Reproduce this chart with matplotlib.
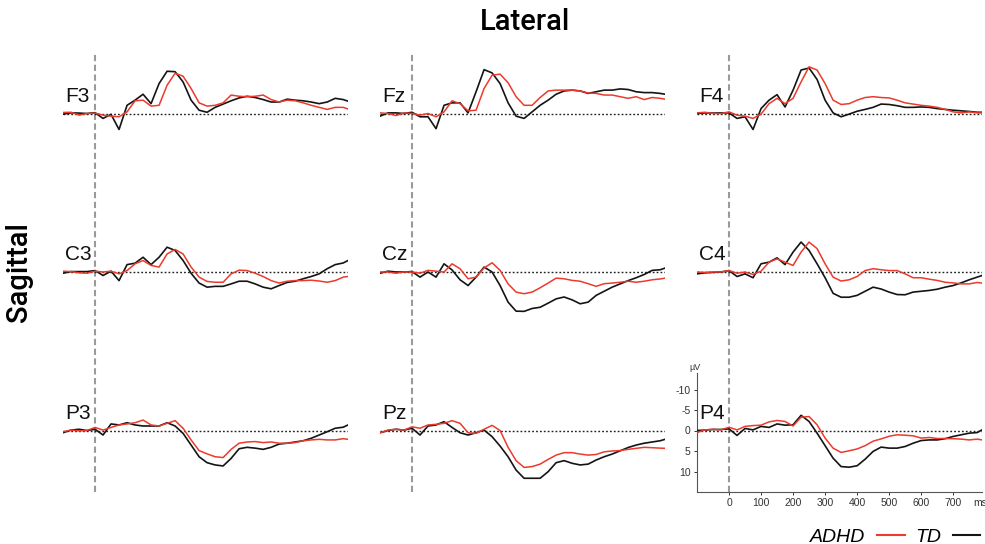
import matplotlib
matplotlib.use('Agg')
import matplotlib.pyplot as plt
from matplotlib.lines import Line2D

plt.rcParams['font.family'] = ['Liberation Sans', 'DejaVu Sans']

# sample times (ms) and ERP amplitudes (uV)
times = [-100, -75, -50, -25, 0, 25, 50, 75, 100, 125, 150, 175, 200, 225, 250, 275, 300,
         325, 350, 375, 400, 425, 450, 475, 500, 525, 550, 575, 600, 625, 650, 675, 700,
         725, 750, 775, 790]

f3_adhd = [-0.25, -0.3, 0.4, 0, -0.1, 0.4, 0.65, 0.8, -0.4, -3.1, -3.25, -1.8, -2.0, -6.9, -9.8, -9.1, -6.1,
           -2.6, -1.8, -2.0, -2.6, -4.5, -4.2, -4.1, -4.2, -4.5, -3.4, -2.8, -3.25, -3.1, -2.6, -2.0, -1.5,
           -1.0, -1.5, -1.5, -1.1]
f3_td = [0.16, -0.16, -0.1, 0, -0.2, 1.2, 0.2, 3.9, -2.0, -3.25, -4.7, -2.4, -7.3, -10.3, -10.2, -7.7, -3.25,
         -0.8, -0.3, -1.5, -2.3, -3.1, -3.8, -4.2, -3.9, -3.4, -2.8, -2.8, -3.5, -3.25, -3.1, -2.8, -2.4,
         -2.8, -3.7, -3.4, -3.0]

fz_adhd = [-0.15, 0, 0.5, -0.15, 0, 0.4, 0, 0.8, -0.4, -3.1, -2.4, -0.65, -0.8, -6.1, -9.35, -9.6, -7.5,
           -4.1, -2.0, -2.0, -3.9, -5.5, -5.7, -5.7, -5.7, -5.5, -5.0, -4.9, -4.5, -4.5, -4.1, -3.7, -4.1,
           -3.4, -3.9, -3.7, -3.5]
fz_td = [0.65, -0.15, -0.15, 0, -0.3, 0.8, 0.8, 3.7, -2.0, -2.6, -2.6, -0.15, -5.3, -10.7, -9.9, -7.3, -2.6,
         0.65, 1.2, -0.4, -2.0, -3.25, -4.7, -5.5, -5.7, -5.5, -4.9, -5.3, -5.7, -5.7, -6.0, -5.85, -5.3,
         -5.1, -5.1, -4.9, -4.7]

f4_adhd = [-0.15, -0.3, 0, 0, -0.4, 0.4, 0.65, 1.2, 0.15, -2.4, -3.7, -2.4, -3.7, -7.7, -11.4, -10.6, -7.3,
           -3.25, -2.2, -2.4, -3.25, -3.9, -4.1, -3.9, -3.8, -3.25, -2.6, -2.3, -2.0, -1.8, -1.5, -1.0, -0.4,
           -0.15, -0.4, -0.15, -0.15]
f4_td = [0, -0.15, -0.1, -0.15, -0.15, 1.2, 0.8, 3.9, -1.2, -3.25, -4.6, -1.6, -5.7, -10.6, -11.1, -8.3, -3.25,
         -0.15, 0.8, 0.15, -0.55, -1.0, -1.5, -2.3, -2.2, -1.9, -1.5, -1.5, -1.6, -1.5, -1.2, -1.0, -0.8,
         -0.65, -0.5, -0.3, -0.3]

c3_adhd = [-0.2, -0.1, 0.2, 0.3, -0.2, 0, -0.2, 0.45, -0.35, -2.0, -2.8, -1.6, -1.2, -4.4, -5.5, -4.4, -1.2,
           1.25, 2.3, 2.5, 2.5, 0.45, -0.45, -0.35, 0.3, 1.1, 2.1, 2.7, 2.25, 2.1, 2.1, 2.0, 2.2,
           2.5, 2.1, 1.25, 1.1]
c3_td = [0.3, -0.1, -0.1, -0.1, -0.35, 0.85, -0.2, 2.1, -1.8, -2.15, -3.6, -1.8, -3.6, -6.05, -5.25, -2.8, 0.3,
         2.7, 3.7, 3.5, 3.5, 2.9, 2.25, 2.25, 2.9, 3.7, 4.1, 3.3, 2.55, 2.25, 1.65, 1.1, 0.45,
         -0.8, -1.8, -2.2, -2.8]

cz_adhd = [0, 0, 0.3, 0, 0, 0.3, -0.4, -0.2, 0, -2.0, -0.8, 1.65, 1.25, -1.0, -2.25, -0.4, 2.9,
           4.9, 5.3, 4.9, 3.85, 2.7, 1.5, 1.65, 2.05, 2.25, 2.85, 3.5, 2.85, 2.7, 2.5, 2.25, 2.5,
           2.25, 1.9, 1.7, 1.5]
cz_td = [0.3, -0.2, 0, 0, -0.1, 1.25, 0, 1.25, -2.0, -0.5, 1.9, 3.3, 1.25, -1.2, 0, 3.3, 7.35,
         9.55, 9.6, 8.9, 8.6, 7.6, 6.55, 6.1, 6.8, 7.75, 7.35, 5.7, 4.7, 3.7, 2.9, 2.1, 1.4,
         0.6, -0.4, -0.55, -0.95]

c4_adhd = [0, 0.1, 0, 0, -0.35, 0.3, 0, 0.6, -0.2, -2.4, -3.2, -2.4, -1.6, -4.85, -7.3, -5.7, -2.0,
           1.25, 2.2, 1.9, 1.1, -0.35, -0.8, -0.55, -0.35, -0.35, 0.45, 1.4, 1.4, 1.75, 2.05, 2.5, 2.65,
           2.9, 2.9, 2.55, 2.7]
c4_td = [0.45, 0.2, 0.1, 0, -0.35, 1.1, 0.45, 1.4, -2.0, -2.4, -3.45, -1.8, -4.85, -7.3, -5.25, -2.0, 1.4,
         5.2, 6.15, 6.15, 5.7, 4.7, 3.7, 4.15, 4.9, 5.5, 5.55, 4.9, 4.7, 4.5, 4.2, 3.7, 3.3,
         2.65, 1.9, 1.25, 0.85]

p3_adhd = [0.3, -0.1, 0.1, 0, -0.75, -0.1, -0.75, -1.35, -1.6, -1.9, -2.55, -1.35, -1.1, -1.75, -2.4, -0.55, 2.3,
           4.9, 5.7, 6.4, 6.6, 4.6, 3.1, 2.8, 2.7, 2.95, 2.8, 3.1, 3.1, 2.95, 2.5, 2.3, 2.15,
           2.3, 2.3, 2.0, 2.15]
p3_td = [0.55, -0.1, -0.3, 0, -0.3, 1.1, -1.6, -1.35, -1.9, -1.35, -1.1, -1.1, -1.1, -1.9, -1.1, 0.7, 3.55,
         6.4, 7.85, 8.4, 8.65, 6.8, 4.45, 4.1, 4.3, 4.6, 4.1, 3.3, 3.1, 2.8, 2.5, 1.9, 1.1,
         0.3, -0.55, -0.8, -1.35]

pz_adhd = [0.55, -0.1, -0.3, -0.1, -0.9, -0.55, -1.35, -1.5, -1.75, -2.4, -1.75, 0.55, 0.7, -0.3, -1.25, 0, 4.1,
           7.35, 9.0, 8.8, 8.2, 7.05, 6.0, 5.4, 5.4, 5.75, 6.0, 5.85, 5.2, 5.0, 4.9, 4.6, 4.35,
           4.1, 4.2, 4.3, 4.35]
pz_td = [0.55, 0, -0.3, -0.1, -0.55, 1.1, -1.1, -1.35, -2.15, -0.75, 0.55, 1.1, 0.55, -0.1, 1.5, 3.8, 6.4,
         9.65, 11.65, 11.65, 11.65, 10.05, 7.85, 7.35, 8.0, 8.4, 8.2, 7.2, 6.4, 5.75, 4.95, 4.15, 3.55,
         3.1, 2.8, 2.5, 2.15]

p4_adhd = [0.5, -0.15, -0.3, -0.15, -0.8, -0.15, -1.0, -1.2, -1.3, -2.1, -2.45, -2.2, -1.1, -3.25, -3.4, -1.4, 1.85,
           4.3, 5.35, 4.95, 4.5, 3.7, 2.6, 2.05, 1.4, 1.05, 1.15, 1.3, 1.85, 1.7, 1.95, 1.95, 2.0,
           2.1, 2.3, 2.1, 2.3]
p4_td = [0, -0.1, -0.25, -0.25, -0.4, 1.2, -0.5, -0.15, -1.0, -0.75, -1.6, -1.3, -1.4, -3.7, -2.2, 0.65, 3.7,
         6.75, 8.8, 8.95, 8.6, 7.0, 5.1, 4.05, 4.3, 4.3, 3.9, 3.1, 2.45, 2.3, 2.3, 2.0, 1.45,
         1.05, 0.65, 0.5, -0.15]

electrodes = [['F3', 'Fz', 'F4'], ['C3', 'Cz', 'C4'], ['P3', 'Pz', 'P4']]
waves = {
    'F3': (f3_adhd, f3_td), 'Fz': (fz_adhd, fz_td), 'F4': (f4_adhd, f4_td),
    'C3': (c3_adhd, c3_td), 'Cz': (cz_adhd, cz_td), 'C4': (c4_adhd, c4_td),
    'P3': (p3_adhd, p3_td), 'Pz': (pz_adhd, pz_td), 'P4': (p4_adhd, p4_td),
}
y_ticks = [-10, -5, 0, 5, 10]
x_ticks = [0, 100, 200, 300, 400, 500, 600, 700]

RED = '#ec3a2c'
BLACK = '#141414'

W, H = 985, 544
fig = plt.figure(figsize=(W / 100, H / 100), dpi=100)

PX_UV = 4.1          # pixels per microvolt
Y_TOP, Y_BOT = -14, 15


def add_panel(left, top, width, height):
    return fig.add_axes([left / W, 1 - (top + height) / H, width / W, height / H])


# bottom row first so the long dashed stimulus lines sit under the upper traces
for r in [2, 1, 0]:
    base = 113.5 + 158.5 * r
    for c in range(3):
        name = electrodes[r][c]
        adhd, td = waves[name]
        ax = add_panel(63 + 317 * c, base + Y_TOP * PX_UV, 285, (Y_BOT - Y_TOP) * PX_UV)
        ax.set_facecolor('none')
        ax.set_xlim(-100, 790)
        ax.set_ylim(Y_BOT, Y_TOP)
        ax.axhline(0, color='#222222', ls=(0, (1.3, 1.5)), lw=1.0, zorder=1)
        if r == 2:
            span = (492 - 54) / ((Y_BOT - Y_TOP) * PX_UV)
            ax.axvline(0, ymin=0, ymax=span, clip_on=False, color='#9a9a9a',
                       ls=(0, (3, 1.7)), lw=1.5, zorder=0)
        ax.plot(times, td, color=BLACK, lw=1.2, zorder=3)
        ax.plot(times, adhd, color=RED, lw=1.1, zorder=3)
        ax.text(-93, -2.9, name, fontsize=15, va='baseline', ha='left', color='#111111')

        if name == 'P4':
            for s in ['top', 'right']:
                ax.spines[s].set_visible(False)
            for s in ['left', 'bottom']:
                ax.spines[s].set_color('#555555')
                ax.spines[s].set_linewidth(0.8)
            ax.set_yticks(y_ticks)
            ax.set_yticklabels([str(v) for v in y_ticks])
            ax.set_xticks(x_ticks)
            ax.set_xticklabels([str(v) for v in x_ticks])
            ax.tick_params(labelsize=7.5, colors='#333333', length=2.5, width=0.7, pad=2)
            ax.text(-125, Y_TOP - 0.3, 'µV', fontsize=6.5, color='#333333',
                    ha='left', va='bottom', clip_on=False)
            ax.text(762, 17.6, 'ms', fontsize=7.5, color='#333333', ha='left',
                    va='center', clip_on=False)
        else:
            ax.axis('off')

title_font = dict(family=['Roboto', 'Liberation Sans', 'DejaVu Sans'], fontweight='medium',
                  fontsize=21)
fig.text(525 / W, 1 - 22 / H, 'Lateral', ha='center', va='center', **title_font)
fig.text(19 / W, 1 - 272 / H, 'Sagittal', ha='center', va='center', rotation=90,
         **title_font)

handles = [Line2D([], [], color=RED, lw=1.5), Line2D([], [], color=BLACK, lw=1.5)]
fig.legend(handles, ['ADHD', 'TD'], loc='lower right', bbox_to_anchor=(1.0, -0.012),
           ncol=2, frameon=False, markerfirst=False,
           prop={'style': 'italic', 'size': 14}, handlelength=1.4,
           handletextpad=0.6, columnspacing=0.55, borderaxespad=0.0, borderpad=0.25)

fig.savefig('out.png', dpi=100)
